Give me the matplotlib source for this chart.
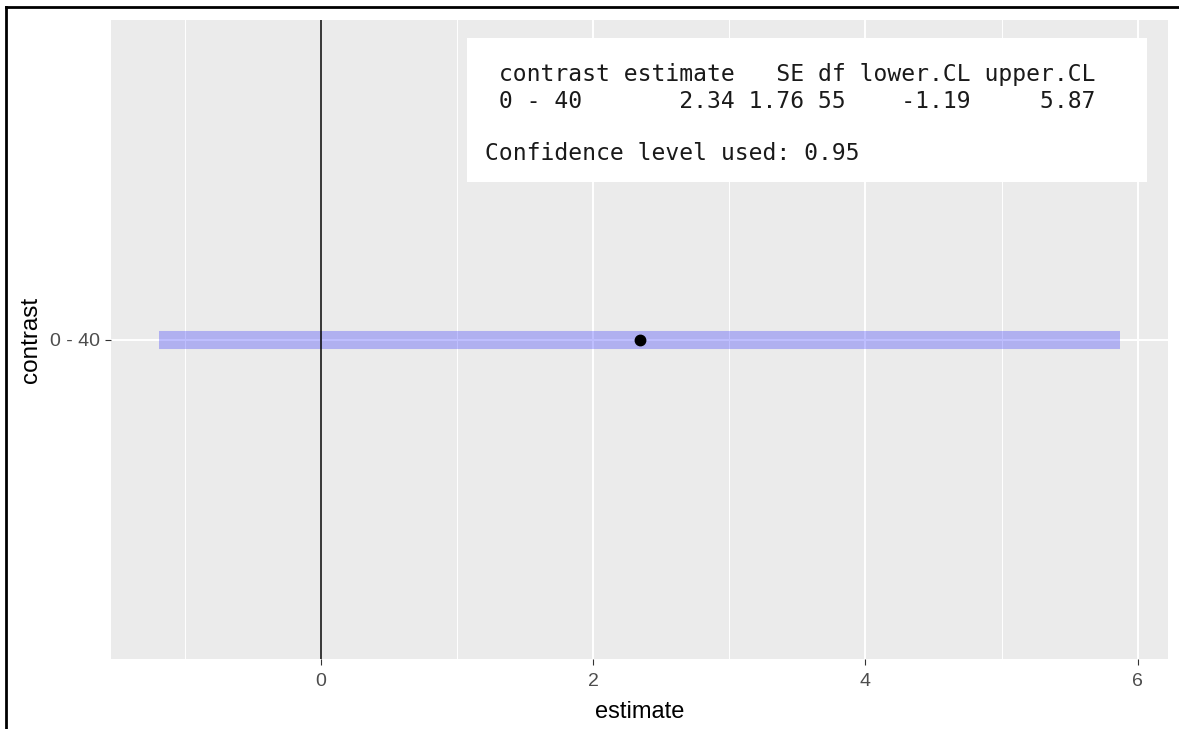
import matplotlib
matplotlib.use("Agg")
import matplotlib.pyplot as plt
from matplotlib.patches import Rectangle
from matplotlib.lines import Line2D

# ---- data ----
contrast = ["0 - 40"]
estimate = [2.34]
SE = [1.76]
df = [55]
lower_CL = [-1.19]
upper_CL = [5.87]
conf_level = 0.95
x_major = [0, 2, 4, 6]
x_minor = [-1, 1, 3, 5]

W, H = 1179, 729
fig = plt.figure(figsize=(W / 100, H / 100), dpi=100)
fig.patch.set_facecolor("white")

# panel position (pixels)
pl, pr, pt, pb = 111, 1168, 20, 659
ax = fig.add_axes([pl / W, 1 - pb / H, (pr - pl) / W, (pb - pt) / H])
ax.set_facecolor("#EBEBEB")
for s in ax.spines.values():
    s.set_visible(False)

# grid
ax.set_xticks(x_major)
ax.set_xticks(x_minor, minor=True)
ax.grid(which="major", color="white", linewidth=1.4)
ax.grid(which="minor", axis="x", color="white", linewidth=0.7)
ax.set_axisbelow(True)

# CI band
ax.hlines(contrast, lower_CL, upper_CL, colors="blue", alpha=0.25,
          linewidth=13, capstyle="butt", zorder=2)
# zero reference line
ax.axvline(0, color="black", linewidth=1.1, zorder=3)
# point estimate
ax.plot(estimate, contrast, "o", color="black", markersize=7.5, zorder=4)

# limits (ggplot-style expansion)
lo, hi = min(lower_CL), max(upper_CL)
rng = hi - lo
ax.set_xlim(lo - 0.05 * rng, hi + 0.05 * rng)
ax.set_ylim(-0.6, 0.6)

ax.tick_params(axis="both", which="major", length=4.2, width=0.8,
               color="#333333", labelcolor="#4D4D4D", labelsize=14)
ax.tick_params(axis="x", which="major", pad=6)
ax.tick_params(axis="y", which="major", pad=4)
ax.tick_params(axis="x", which="minor", length=0)
for lab in ax.get_xticklabels() + ax.get_yticklabels():
    lab.set_fontfamily(["Liberation Sans", "DejaVu Sans"])

ax.set_xlabel("estimate", fontsize=17, family=["Liberation Sans", "DejaVu Sans"],
              color="black", va="center")
ax.set_ylabel("contrast", fontsize=17.5, family=["Liberation Sans", "DejaVu Sans"],
              color="black", va="center")
ax.xaxis.set_label_coords(0.5, (pb - 712) / (pb - pt))
ax.yaxis.set_label_coords((31 - pl) / (pr - pl), 0.5)

# ---- summary table box ----
bx0, bx1, by0, by1 = 467, 1147, 38, 182
ax.add_patch(Rectangle(((bx0 - pl) / (pr - pl), (pb - by1) / (pb - pt)),
                       (bx1 - bx0) / (pr - pl), (by1 - by0) / (pb - pt),
                       transform=ax.transAxes, facecolor="white",
                       edgecolor="none", zorder=5))

header = " contrast estimate   SE df lower.CL upper.CL"
rows = [f" {c:<8} {e:>8.2f} {s:>4.2f} {d:>2d} {l:>8.2f} {u:>8.2f}"
        for c, e, s, d, l, u in zip(contrast, estimate, SE, df, lower_CL, upper_CL)]
footer = f"Confidence level used: {conf_level}"

mono = dict(family=["DejaVu Sans Mono"], fontsize=16.6, color="#1a1a1a",
            ha="left", va="center", zorder=6)
tx = 485
lines_y = [(header, 75), (rows[0], 101), (footer, 153)]
for txt, yy in lines_y:
    fig.text(tx / W, 1 - yy / H, txt, **mono)

# ---- image border (top and left) ----
fig.add_artist(Line2D([6 / W, 1], [1 - 7 / H, 1 - 7 / H], transform=fig.transFigure,
                      color="black", linewidth=2))
fig.add_artist(Line2D([6 / W, 6 / W], [0, 1 - 7 / H], transform=fig.transFigure,
                      color="black", linewidth=2))

fig.savefig("out.png", dpi=100)
